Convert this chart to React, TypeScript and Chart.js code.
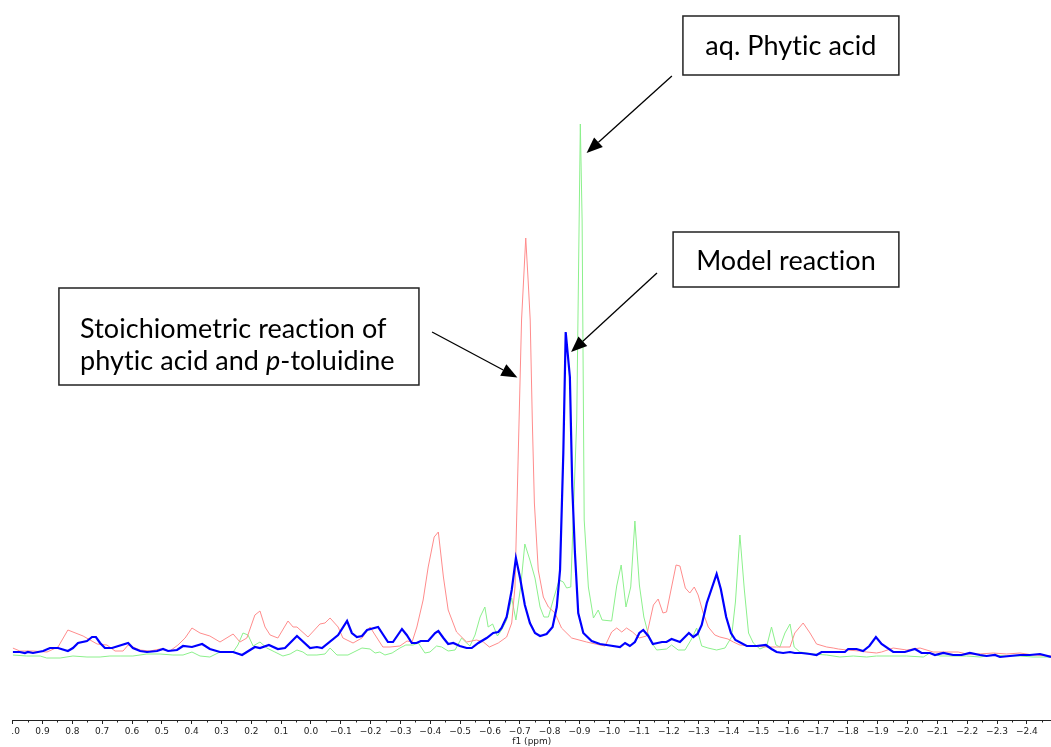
import React, { useEffect, useRef } from 'react';
import { Chart, registerables } from 'chart.js';

Chart.register(...registerables);

// ---- Data (chemical shift in ppm, intensity in arbitrary units) ----
const modelPpm = [
  1.000, 0.976, 0.959, 0.949, 0.932, 0.898, 0.875, 0.848, 0.815, 0.798,
  0.781, 0.751, 0.734, 0.721, 0.707, 0.691, 0.667, 0.613, 0.597, 0.573,
  0.550, 0.516, 0.496, 0.479, 0.449, 0.429, 0.399, 0.365, 0.339, 0.305,
  0.261, 0.231, 0.215, 0.188, 0.171, 0.141, 0.111, 0.087, 0.047, 0.003,
  -0.020, -0.037, -0.091, -0.121, -0.137, -0.154, -0.171, -0.188, -0.225, -0.258,
  -0.275, -0.305, -0.321, -0.338, -0.354, -0.368, -0.393, -0.416, -0.427, -0.444,
  -0.460, -0.477, -0.499, -0.522, -0.539, -0.561, -0.589, -0.611, -0.628, -0.639,
  -0.656, -0.673, -0.687, -0.701, -0.717, -0.734, -0.751, -0.768, -0.790, -0.810,
  -0.824, -0.835, -0.846, -0.854, -0.868, -0.876, -0.885, -0.896, -0.913, -0.941,
  -0.969, -0.991, -1.036, -1.053, -1.069, -1.086, -1.101, -1.114, -1.131, -1.146,
  -1.177, -1.192, -1.209, -1.237, -1.267, -1.282, -1.296, -1.310, -1.327, -1.360,
  -1.374, -1.392, -1.408, -1.423, -1.461, -1.494, -1.525, -1.544, -1.561, -1.583,
  -1.606, -1.622, -1.645, -1.673, -1.695, -1.712, -1.757, -1.790, -1.801, -1.829,
  -1.851, -1.872, -1.894, -1.913, -1.952, -1.991, -2.025, -2.047, -2.075, -2.092,
  -2.120, -2.153, -2.181, -2.209, -2.243, -2.265, -2.293, -2.310, -2.343, -2.377,
  -2.410, -2.444, -2.481,
];
const modelIntensity = [
  3, 3, 2, 3, 2, 4, 7, 7, 4, 7,
  12, 14, 18, 18, 12, 7, 7, 12, 7, 4,
  3, 4, 6, 4, 5, 9, 8, 11, 6, 3,
  3, 0, 3, 8, 7, 10, 6, 7, 19, 7,
  8, 7, 20, 34, 22, 18, 19, 25, 28, 13,
  13, 26, 20, 12, 12, 14, 14, 22, 24, 17,
  11, 12, 9, 7, 7, 12, 17, 22, 23, 27,
  38, 65, 97, 77, 50, 32, 22, 19, 21, 28,
  48, 85, 202, 323, 278, 168, 102, 42, 22, 14,
  11, 10, 8, 12, 9, 13, 22, 25, 19, 11,
  13, 13, 16, 13, 22, 18, 21, 30, 52, 81,
  66, 38, 22, 15, 9, 9, 10, 6, 3, 2,
  3, 2, 2, 1, 0, 3, 3, 3, 6, 6,
  4, 9, 18, 11, 3, 3, 6, 2, 2, 0,
  2, 0, 0, 2, 0, -1, 0, -2, -1, 0,
  0, 1, -2,
];

const stoichPpm = [
  1.000, 0.976, 0.932, 0.885, 0.848, 0.815, 0.764, 0.717, 0.684, 0.657,
  0.630, 0.613, 0.573, 0.540, 0.506, 0.473, 0.446, 0.422, 0.399, 0.372,
  0.339, 0.305, 0.261, 0.238, 0.215, 0.188, 0.171, 0.154, 0.137, 0.111,
  0.077, 0.060, 0.047, 0.010, -0.030, -0.047, -0.064, -0.091, -0.107, -0.141,
  -0.171, -0.198, -0.215, -0.241, -0.265, -0.298, -0.322, -0.339, -0.355, -0.376,
  -0.393, -0.413, -0.427, -0.444, -0.460, -0.488, -0.522, -0.555, -0.578, -0.598,
  -0.628, -0.656, -0.673, -0.684, -0.695, -0.706, -0.720, -0.728, -0.735, -0.742,
  -0.749, -0.762, -0.779, -0.796, -0.818, -0.840, -0.874, -0.924, -0.969, -0.986,
  -1.008, -1.025, -1.042, -1.058, -1.078, -1.100, -1.125, -1.148, -1.164, -1.180,
  -1.192, -1.209, -1.224, -1.237, -1.255, -1.270, -1.285, -1.298, -1.315, -1.332,
  -1.354, -1.371, -1.398, -1.416, -1.438, -1.483, -1.528, -1.561, -1.606, -1.622,
  -1.650, -1.673, -1.695, -1.729, -1.751, -1.768, -1.796, -1.840, -1.863, -1.896,
  -1.913, -1.952, -1.997, -2.042, -2.086, -2.131, -2.170, -2.198, -2.243, -2.287,
  -2.332, -2.377, -2.421, -2.481,
];
const stoichIntensity = [
  7, 4, 4, 3, 8, 25, 19, 11, 10, 4,
  4, 10, 5, 4, 6, 4, 10, 17, 27, 22,
  19, 13, 21, 13, 17, 40, 44, 28, 20, 17,
  34, 28, 28, 18, 31, 32, 37, 28, 17, 12,
  17, 28, 20, 8, 8, 9, 14, 13, 28, 55,
  88, 118, 123, 78, 45, 23, 13, 15, 13, 8,
  12, 18, 32, 68, 202, 335, 417, 375, 335, 235,
  152, 85, 58, 48, 42, 27, 17, 13, 10, 9,
  23, 27, 23, 27, 23, 17, 19, 50, 56, 42,
  43, 68, 90, 89, 67, 62, 68, 60, 42, 28,
  20, 18, 16, 13, 10, 9, 8, 8, 8, 22,
  32, 22, 11, 8, 7, 6, 5, 4, 3, 2,
  3, 7, 5, 7, 3, 3, 3, 1, 1, 2,
  1, 2, 0, -1,
];

const phyticPpm = [
  1.000, 0.953, 0.908, 0.886, 0.841, 0.798, 0.751, 0.707, 0.674, 0.640,
  0.597, 0.550, 0.506, 0.463, 0.429, 0.399, 0.372, 0.339, 0.305, 0.261,
  0.245, 0.228, 0.211, 0.194, 0.171, 0.148, 0.121, 0.094, 0.070, 0.047,
  0.027, 0.013, -0.020, -0.047, -0.064, -0.087, -0.124, -0.171, -0.198, -0.215,
  -0.231, -0.248, -0.272, -0.298, -0.318, -0.342, -0.360, -0.382, -0.399, -0.421,
  -0.438, -0.460, -0.483, -0.505, -0.522, -0.533, -0.550, -0.567, -0.583, -0.594,
  -0.609, -0.625, -0.639, -0.656, -0.673, -0.687, -0.703, -0.717, -0.734, -0.751,
  -0.768, -0.781, -0.796, -0.812, -0.832, -0.846, -0.857, -0.871, -0.879, -0.891,
  -0.903, -0.909, -0.916, -0.930, -0.947, -0.963, -0.976, -1.008, -1.025, -1.040,
  -1.056, -1.072, -1.086, -1.101, -1.116, -1.136, -1.159, -1.192, -1.209, -1.231,
  -1.254, -1.276, -1.293, -1.310, -1.331, -1.360, -1.388, -1.410, -1.423, -1.438,
  -1.453, -1.467, -1.483, -1.505, -1.528, -1.544, -1.559, -1.572, -1.589, -1.606,
  -1.620, -1.639, -1.684, -1.729, -1.773, -1.818, -1.863, -1.896, -1.941, -1.997,
  -2.053, -2.075, -2.109, -2.153, -2.198, -2.243, -2.287, -2.332, -2.377, -2.421,
  -2.481,
];
const phyticIntensity = [
  0, -1, -1, -3, -3, -1, -2, -2, -1, -1,
  -1, 1, 1, 0, 0, 3, -1, -2, 3, 3,
  10, 22, 20, 9, 13, 7, 3, -1, 1, 5,
  3, 0, 0, 1, 7, 0, 0, 7, 6, 2,
  3, 0, 2, 7, 10, 10, 12, 2, 3, 9,
  8, 4, 5, 17, 12, 9, 20, 38, 48, 28,
  31, 19, 25, 35, 57, 35, 68, 111, 95, 77,
  48, 38, 38, 55, 75, 73, 67, 68, 135, 235,
  531, 435, 135, 68, 37, 45, 35, 34, 69, 90,
  48, 68, 134, 70, 38, 15, 5, 6, 10, 5,
  5, 16, 27, 9, 7, 5, 7, 18, 53, 120,
  65, 22, 12, 6, 9, 28, 10, 8, 22, 31,
  8, 3, 1, 0, -2, -1, -2, -1, -1, -1,
  -2, 2, -1, -1, -1, -2, 0, -1, -1, -2,
  -2,
];

// axis range
const ppmMax = 1.0;
const ppmMin = -2.481;
const intensityMin = -65;
const intensityMax = 555;
const majorStep = 0.1;
const minorStep = 0.05;
const axisTitle = 'f1 (ppm)';

// annotations (placed in data coordinates)
type Seg = { text: string; italic?: boolean };
const labelBoxes: {
  left: number; right: number; top: number; bottom: number;
  align: 'center' | 'left'; textX?: number; baselines: number[]; lines: Seg[][];
}[] = [
  {
    left: -1.247, right: -1.971, top: 639, bottom: 580, align: 'center',
    baselines: [600], lines: [[{ text: 'aq. Phytic acid' }]],
  },
  {
    left: -1.214, right: -1.971, top: 423, bottom: 368, align: 'center',
    baselines: [385], lines: [[{ text: 'Model reaction' }]],
  },
  {
    left: 0.845, right: -0.362, top: 367, bottom: 270, align: 'left', textX: 0.774,
    baselines: [317, 285],
    lines: [
      [{ text: 'Stoichiometric reaction of' }],
      [{ text: 'phytic acid and ' }, { text: 'p', italic: true }, { text: '-toluidine' }],
    ],
  },
];
const arrows = [
  { from: [-1.210, 579], to: [-0.924, 502] },
  { from: [-1.160, 382], to: [-0.872, 303] },
  { from: [-0.406, 323], to: [-0.692, 277.5] },
];

const toPoints = (xs: number[], ys: number[]) => xs.map((x, i) => ({ x, y: ys[i] }));

const TEXT_FONT = 'Lato, "Open Sans", sans-serif';
const TEXT_SIZE = 27;

const clipPlugin = {
  id: 'leftClip',
  beforeDraw(chart: any) {
    const { ctx, chartArea } = chart;
    ctx.save();
    ctx.beginPath();
    ctx.rect(chartArea.left - 1.5, 0, chart.width, chart.height);
    ctx.clip();
  },
  afterDraw(chart: any) {
    chart.ctx.restore();
  },
};

const minorTickPlugin = {
  id: 'minorTicks',
  afterDraw(chart: any) {
    const { ctx, chartArea } = chart;
    const xs = chart.scales.x;
    ctx.save();
    ctx.strokeStyle = '#222';
    ctx.lineWidth = 1;
    const kStart = Math.ceil(ppmMin / minorStep);
    const kEnd = Math.floor(ppmMax / minorStep);
    for (let k = kStart; k <= kEnd; k++) {
      if (Math.abs(k) % 2 === 0) continue;
      const px = Math.round(xs.getPixelForValue(k * minorStep)) + 0.5;
      ctx.beginPath();
      ctx.moveTo(px, chartArea.bottom);
      ctx.lineTo(px, chartArea.bottom + 2.5);
      ctx.stroke();
    }
    ctx.restore();
  },
};

const annotationPlugin = {
  id: 'annotations',
  afterDraw(chart: any) {
    const { ctx } = chart;
    const xs = chart.scales.x;
    const ys = chart.scales.y;
    const px = (v: number) => xs.getPixelForValue(v);
    const py = (v: number) => ys.getPixelForValue(v);
    ctx.save();

    // arrows
    for (const a of arrows) {
      const x1 = px(a.from[0]), y1 = py(a.from[1]);
      const x2 = px(a.to[0]), y2 = py(a.to[1]);
      const ang = Math.atan2(y2 - y1, x2 - x1);
      const headLen = 16, headHalf = 6.5;
      const bx = x2 - headLen * Math.cos(ang);
      const by = y2 - headLen * Math.sin(ang);
      ctx.strokeStyle = '#000';
      ctx.lineWidth = 1.3;
      ctx.beginPath();
      ctx.moveTo(x1, y1);
      ctx.lineTo(bx, by);
      ctx.stroke();
      ctx.fillStyle = '#000';
      ctx.beginPath();
      ctx.moveTo(x2, y2);
      ctx.lineTo(bx + headHalf * Math.sin(ang), by - headHalf * Math.cos(ang));
      ctx.lineTo(bx - headHalf * Math.sin(ang), by + headHalf * Math.cos(ang));
      ctx.closePath();
      ctx.fill();
    }

    // boxes
    (ctx as any).textRendering = 'optimizeSpeed';
    (ctx as any).letterSpacing = '0.05px';
    for (const b of labelBoxes) {
      const l = px(b.left), r = px(b.right), t = py(b.top), bt = py(b.bottom);
      ctx.fillStyle = '#fff';
      ctx.fillRect(l, t, r - l, bt - t);
      ctx.strokeStyle = '#222';
      ctx.lineWidth = 1.5;
      ctx.strokeRect(l, t, r - l, bt - t);
      ctx.fillStyle = '#000';
      ctx.textBaseline = 'alphabetic';
      ctx.textAlign = 'left';
      b.lines.forEach((segs, i) => {
        const widths = segs.map((s) => {
          ctx.font = `${s.italic ? 'italic ' : ''}${TEXT_SIZE}px ${TEXT_FONT}`;
          return ctx.measureText(s.text).width;
        });
        const total = widths.reduce((p, c) => p + c, 0);
        let x = b.align === 'center' ? (l + r) / 2 - total / 2 : px(b.textX as number);
        const y = py(b.baselines[i]);
        segs.forEach((s, j) => {
          ctx.font = `${s.italic ? 'italic ' : ''}${TEXT_SIZE}px ${TEXT_FONT}`;
          ctx.fillText(s.text, x, y);
          x += widths[j];
        });
      });
    }
    ctx.restore();
  },
};

function formatTick(v: number) {
  const s = Math.abs(v).toFixed(1);
  return v < -1e-9 ? '\u2212' + s : s;
}

export default function App() {
  const canvasRef = useRef<HTMLCanvasElement | null>(null);

  useEffect(() => {
    const canvas = canvasRef.current;
    if (!canvas) return;
    const chart = new Chart(canvas, {
      type: 'line',
      data: {
        datasets: [
          {
            label: 'Model reaction',
            data: toPoints(modelPpm, modelIntensity),
            borderColor: '#0000ff',
            borderWidth: 2.2,
            pointRadius: 0,
            tension: 0,
            fill: false,
          },
          {
            label: 'Stoichiometric reaction of phytic acid and p-toluidine',
            data: toPoints(stoichPpm, stoichIntensity),
            borderColor: '#ff8c8c',
            borderWidth: 1,
            pointRadius: 0,
            tension: 0,
            fill: false,
          },
          {
            label: 'aq. Phytic acid',
            data: toPoints(phyticPpm, phyticIntensity),
            borderColor: '#8cf08c',
            borderWidth: 1,
            pointRadius: 0,
            tension: 0,
            fill: false,
          },
        ],
      },
      options: {
        animation: false,
        responsive: true,
        maintainAspectRatio: false,
        layout: { padding: { left: 12.7, right: 0, top: 100, bottom: 0 } },
        plugins: {
          legend: { display: false },
          tooltip: { enabled: false },
        },
        scales: {
          x: {
            type: 'linear',
            reverse: true,
            min: ppmMin,
            max: ppmMax,
            position: 'bottom',
            afterFit: (scale: any) => {
              scale.height = 27;
              scale.paddingLeft = 0;
              scale.paddingRight = 0;
            },
            border: { display: true, color: '#222', width: 1 },
            grid: {
              drawOnChartArea: false,
              drawTicks: true,
              tickLength: 4,
              tickColor: '#222',
              tickWidth: 1,
            },
            ticks: {
              stepSize: majorStep,
              includeBounds: false,
              autoSkip: false,
              maxRotation: 0,
              minRotation: 0,
              padding: 2,
              color: '#222',
              font: { family: '"DejaVu Sans", sans-serif', size: 9 },
              callback: (v: any) => formatTick(Number(v)),
            },
            title: {
              display: true,
              text: axisTitle,
              color: '#222',
              padding: { top: 0, bottom: 0 },
              font: { family: '"DejaVu Sans", sans-serif', size: 9 },
            },
          },
          y: {
            display: false,
            min: intensityMin,
            max: intensityMax,
          },
        },
      },
      plugins: [clipPlugin, minorTickPlugin, annotationPlugin],
    } as any);
    return () => chart.destroy();
  }, []);

  return (
    <div style={{ position: 'absolute', left: 0, top: 0, width: 1051, height: 747, background: '#fff' }}>
      <canvas ref={canvasRef} />
    </div>
  );
}
